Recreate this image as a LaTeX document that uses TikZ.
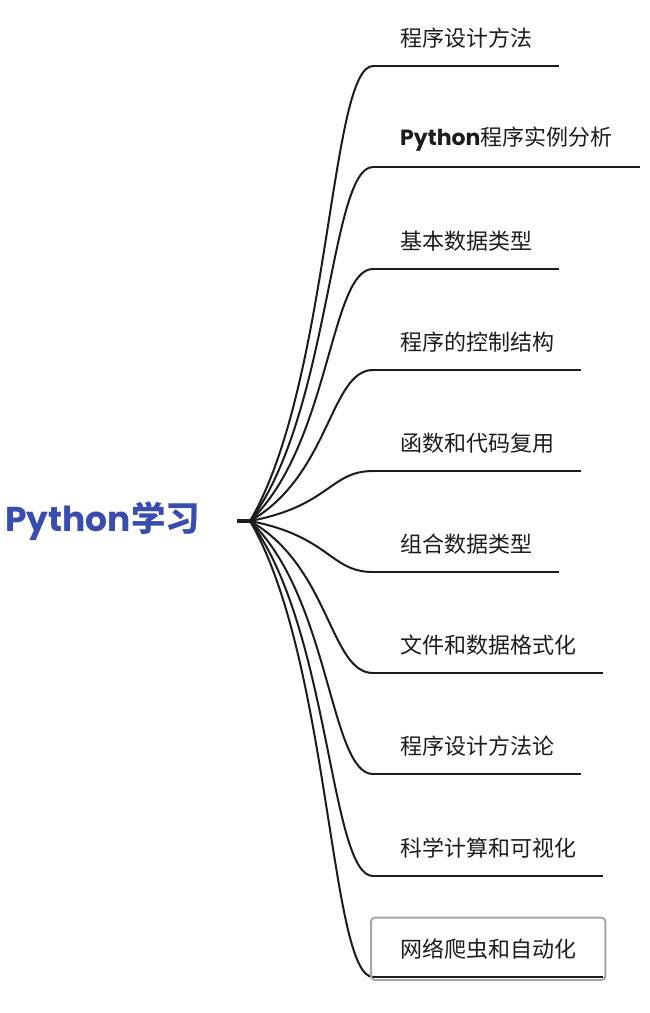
\documentclass[tikz,border=0pt]{standalone}
\usepackage{fontspec}
\setmainfont{Noto Sans CJK SC}
\newfontfamily\popfont{Poppins}
\usepackage{tikz}
\usetikzlibrary{calc, fit}
\definecolor{rootblue}{HTML}{3A4CAE}
\definecolor{ink}{HTML}{1C1C1C}
\tikzset{
  topic/.style={anchor=west, inner sep=0pt, text=rootblue,
                font=\fontsize{34.5}{40}\selectfont\bfseries},
  leaf/.style={anchor=south west, inner xsep=27pt, inner ysep=0pt,
               minimum height=56pt, text=ink, font=\fontsize{22}{26}\selectfont},
  uline/.style={draw=ink, line width=2pt},
  branch/.style={draw=ink, line width=2pt},
  stub/.style={draw=ink, line width=3.4pt},
  selbox/.style={draw=black!35, line width=2pt, rounded corners=4pt,
                 inner xsep=2pt, inner ysep=3pt}
}

\begin{document}
\begin{tikzpicture}[x=1pt, y=-1pt]
  \useasboundingbox (0,0) rectangle (650,1013);
  \node[topic] (root) at (5,521) {{\popfont\bfseries Python}学习};
  \coordinate (knot) at (237,521);
  \coordinate (hub) at (250,521);
  \draw[stub] (knot) -- (hub);
  % branches
  \foreach \i/\y/\txt in {1/66/程序设计方法, 2/167/{{\popfont\bfseries Python}程序实例分析},
      3/269/基本数据类型, 4/370/程序的控制结构, 5/471/函数和代码复用,
      6/572/组合数据类型, 7/673/文件和数据格式化, 8/774/程序设计方法论,
      9/876/科学计算和可视化, 10/977/网络爬虫和自动化} {
    \node[leaf] (c\i) at (373,\y) {\txt};
    \draw[uline] (c\i.south west) -- (c\i.south east);
    \draw[branch] (hub) .. controls +(80,{0.3*(\y-521)}) and +(-43,0) .. (c\i.south west);
  }
  \node[selbox, fit=(c10)] (sel) {};
\end{tikzpicture}
\end{document}
